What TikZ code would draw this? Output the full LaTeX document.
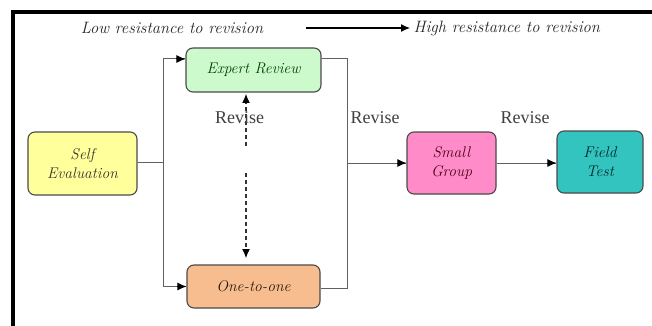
\documentclass[tikz,border=0pt]{standalone}
\usepackage{fontspec}
\newfontfamily\revfont{Liberation Serif}
\usetikzlibrary{arrows.meta}
\definecolor{seFill}{HTML}{FFFF9C}
\definecolor{erFill}{HTML}{CCFACC}
\definecolor{ooFill}{HTML}{F8BD8E}
\definecolor{sgFill}{HTML}{FF8CC8}
\definecolor{ftFill}{HTML}{33C4C0}
\definecolor{boxLine}{HTML}{4A4A4A}
\definecolor{conn}{HTML}{606060}
\tikzset{
  box/.style={draw=boxLine, line width=1.1pt, rounded corners=7pt, align=center,
    font=\fontsize{15.5}{18}\selectfont\itshape\addfontfeatures{FakeBold=0.8}, inner sep=0pt},
  link/.style={draw=conn, line width=1pt},
  tip/.style={-{Latex[length=9pt,width=8pt]}, color=black, line width=1pt},
  revise/.style={font=\revfont\fontsize{18}{20}\selectfont, text=black!75},
  toplabel/.style={font=\fontsize{16.5}{19}\selectfont\itshape\addfontfeatures{FakeBold=0.8}, text=black!85},
  dashline/.style={draw=black!80, line width=1.4pt, dash pattern=on 4pt off 3pt}
}
\begin{document}
\begin{tikzpicture}[x=1pt,y=-1pt]
\useasboundingbox (0,0) rectangle (652,326);
\fill[white] (0,0) rectangle (652,326);
% frame
\draw[line width=4pt] (12.5,326) -- (12.5,12.5) -- (652,12.5);
% top labels
\node[toplabel] (low) at (172,28) {Low resistance to revision};
\node[toplabel, anchor=west] (high) at (410,28) {High resistance to revision};
\coordinate (ta) at (306,28);
\draw[line width=1.2pt, -{Latex[length=9pt,width=8pt]}] (ta) -- (high.west);
% boxes
\node[box, fill=seFill, text=black!80!olive, minimum width=109pt, minimum height=63pt] (se) at (82.5,163.5) {Self\\[1pt]Evaluation};
\node[box, fill=erFill, text=black!75!green, minimum width=135pt, minimum height=44pt] (er) at (253.5,70) {Expert Review};
\node[box, fill=ooFill, text=black!80!brown, minimum width=133pt, minimum height=43pt] (oo) at (253.5,286.5) {One-to-one};
\node[box, fill=sgFill, text=black!60!purple, minimum width=89pt, minimum height=62pt] (sg) at (451.5,163) {Small\\[1pt]Group};
\node[box, fill=ftFill, text=black!70!teal, minimum width=86pt, minimum height=62pt] (ft) at (600,162) {Field\\[1pt]Test};
% left branching
\coordinate (jm) at (163,162);
\coordinate (jt) at (163,59);
\coordinate (jb) at (163,286.5);
\draw[link] (se.east |- jm) -- (jm);
\draw[link] (jt) -- (jb);
\draw[link] (jt) -- (jt -| er.west);
\draw[tip] ([xshift=-9pt]jt -| er.west) -- (jt -| er.west);
\draw[link] (jb) -- (oo.west);
\draw[tip] ([xshift=-9pt]oo.west) -- (oo.west);
% right merge
\coordinate (rt) at (347,59);
\coordinate (rb) at (347,288);
\coordinate (rm) at (347,163);
\draw[link] (rt -| er.east) -- (rt) -- (rb) -- (rb -| oo.east);
\draw[link] (rm) -- (sg.west);
\draw[tip] ([xshift=-9pt]sg.west) -- (sg.west);
\draw[link] (sg.east) -- (sg.east -| ft.west);
\draw[tip] ([xshift=-9pt]sg.east -| ft.west) -- (sg.east -| ft.west);
% dashed revise arrows
\coordinate (du) at (246,146);
\coordinate (dl) at (246,173);
\draw[dashline] (du) -- (246,103);
\draw[-{Latex[length=9pt,width=8pt]}, line width=1pt] (246,103) -- (246,94);
\draw[dashline] (dl) -- (246,249);
\draw[-{Latex[length=9pt,width=8pt]}, line width=1pt] (246,249) -- (246,258);
% revise labels
\node[revise] (rv1) at (239.5,118) {Revise};
\node[revise] (rv2) at (375,118) {Revise};
\node[revise] (rv3) at (525,118) {Revise};
\end{tikzpicture}
\end{document}
